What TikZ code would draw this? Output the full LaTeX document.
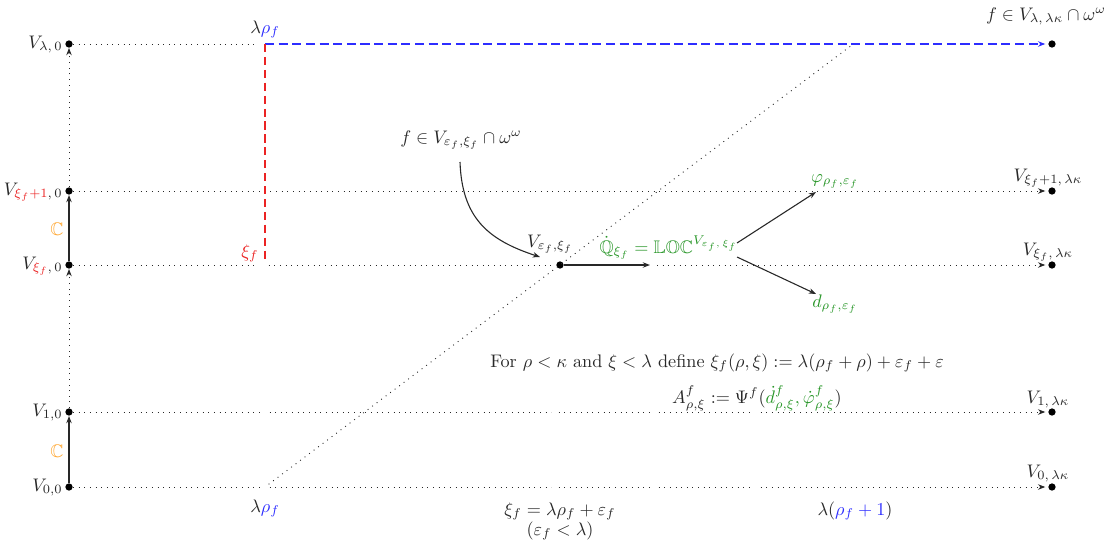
\documentclass[tikz,border=0pt]{standalone}
\usepackage{amsmath,amssymb}
\usetikzlibrary{arrows.meta}
\definecolor{cblue}{RGB}{45,45,255}
\definecolor{cred}{RGB}{235,35,35}
\definecolor{corange}{RGB}{255,165,45}
\definecolor{cgreen}{RGB}{40,150,40}
\definecolor{ctext}{RGB}{40,40,40}
\begin{document}
\begin{tikzpicture}[x=0.55pt,y=-0.55pt,
  dotline/.style={line width=0.5pt, dash pattern=on 0.5pt off 2.6pt, draw=ctext},
  tip/.style={-{Stealth[length=4pt,width=3pt]}},
  solidarr/.style={draw=ctext, line width=0.6pt, tip},
  vdot/.style={circle,fill=black,inner sep=0pt,minimum size=4pt},
  lbl/.style={inner sep=0pt, text=ctext},
  blueline/.style={draw=cblue, line width=0.7pt, dash pattern=on 5pt off 2.5pt},
  redline/.style={draw=cred, line width=0.7pt, dash pattern=on 4.5pt off 2.6pt}]
\useasboundingbox (0,0) rectangle (1115,547);

% left and right dots
\node[vdot] (L0) at (69,487) {};
\node[vdot] (L1) at (69,412) {};
\node[vdot] (Lx) at (69,265) {};
\node[vdot] (Lx1) at (69,191) {};
\node[vdot] (Ll) at (69,44) {};
\node[vdot] (R0) at (1052,487) {};
\node[vdot] (R1) at (1052,412) {};
\node[vdot] (Rx) at (1052,265) {};
\node[vdot] (Rx1) at (1052,191) {};
\node[vdot] (Rl) at (1052,44) {};
\node[vdot] (M) at (560,265) {};

% left labels
\node[lbl,anchor=base east] (tL0) at (63,491) {$V_{0,0}$};
\node[lbl,anchor=base east] (tL1) at (63,416) {$V_{1,0}$};
\node[lbl,anchor=base east] (tLx) at (63,269) {$V_{\textcolor{cred}{\xi_f},\,0}$};
\node[lbl,anchor=base east] (tLx1) at (63,195) {$V_{\textcolor{cred}{\xi_f+1},\,0}$};
\node[lbl,anchor=base east] (tLl) at (63,48) {$V_{\lambda,\,0}$};
\node[text=corange] (c1) at (57,451) {$\mathbb{C}$};
\node[text=corange] (c2) at (57,229) {$\mathbb{C}$};

% right labels
\node[lbl,anchor=base] (tR0) at (1048,477) {$V_{0,\,\lambda\kappa}$};
\node[lbl,anchor=base] (tR1) at (1048,403) {$V_{1,\,\lambda\kappa}$};
\node[lbl,anchor=base] (tRx) at (1048,255) {$V_{\xi_f,\,\lambda\kappa}$};
\node[lbl,anchor=base] (tRx1) at (1048,181) {$V_{\xi_f+1,\,\lambda\kappa}$};
\node[lbl,anchor=base] (tRl) at (1046,20) {$f\in V_{\lambda,\,\lambda\kappa}\cap\omega^\omega$};

% column labels
\node[lbl,anchor=base] (top) at (265,33) {$\lambda\textcolor{cblue}{\rho_f}$};
\node[lbl,anchor=base] (bot) at (265,512) {$\lambda\textcolor{cblue}{\rho_f}$};
\node[lbl,anchor=base east,text=cred] (xil) at (259,257) {$\xi_f$};
\node[lbl,anchor=base] (xidef) at (560,515) {$\xi_f=\lambda\rho_f+\varepsilon_f$};
\node[lbl,anchor=base] (epsl) at (560,535) {$(\varepsilon_f<\lambda)$};
\node[lbl,anchor=base] (lrho) at (855,515) {$\lambda(\textcolor{cblue}{\rho_f+1})$};

% texts
\node[lbl,anchor=base] (for) at (717,367) {For $\rho<\kappa$ and $\xi<\lambda$ define $\xi_f(\rho,\xi):=\lambda(\rho_f+\rho)+\varepsilon_f+\varepsilon$};
\node[lbl,anchor=base] (adef) at (757,403) {$A^f_{\rho,\xi}:=\Psi^f(\textcolor{cgreen}{\dot d^f_{\rho,\xi},\dot\varphi^f_{\rho,\xi}})$};
\node[lbl,anchor=base] (fin) at (461,143) {$f\in V_{\varepsilon_f,\xi_f}\cap\omega^\omega$};
\node[lbl,anchor=base] (mlab) at (550,247) {$V_{\varepsilon_f,\xi_f}$};
\node[lbl,anchor=base,text=cgreen] (Q) at (669,253) {$\dot{\mathbb{Q}}_{\xi_f}=\mathbb{LOC}^{V_{\varepsilon_f,\,\xi_f}}$};
\node[lbl,anchor=base,text=cgreen] (phi) at (835,182) {$\varphi_{\rho_f,\varepsilon_f}$};
\node[lbl,anchor=base,text=cgreen] (dd) at (835,307) {$d_{\rho_f,\varepsilon_f}$};

% helper coordinates
\coordinate (tc) at (265,44);
\coordinate (rc) at (265,260);
\coordinate (dt) at (852,45);
\coordinate (b1) at (265,487);
\coordinate (g1) at (265,191);
\coordinate (h1) at (265,265);
\coordinate (qh) at (650,265);
\coordinate (qh2) at (657,265);
\coordinate (qa) at (737,243);
\coordinate (qb) at (737,257);
\coordinate (pa) at (816,192);
\coordinate (pb) at (816,294);
\coordinate (cs) at (460,162);
\coordinate (ce) at (540,257);
\foreach \y/\n in {412/a,487/b}{
  \coordinate (\n1) at (265,\y);
  \coordinate (\n2) at (555,\y);
  \coordinate (\n3) at (655,\y);
  \coordinate (\n4) at (757,\y);
}

% left vertical arrows
\draw[solidarr] (L0) -- (L1);
\draw[dotline,tip] (L1) -- (Lx);
\draw[solidarr] (Lx) -- (Lx1);
\draw[dotline,tip] (Lx1) -- (Ll);

% top row
\draw[dotline] (Ll) -- ([xshift=-5pt]tc);
\draw[blueline,tip] (tc) -- ([xshift=-1.5pt]Rl.west);
\draw[redline] (tc) -- (rc);

% row xi_f+1
\draw[dotline] (Lx1) -- ([xshift=-3pt]g1);
\draw[dotline,tip] ([xshift=3pt]g1) -- ([xshift=-1.5pt]Rx1.west);

% row xi_f
\draw[dotline] (Lx) -- ([xshift=-4pt]h1);
\draw[dotline] ([xshift=2pt]h1) -- ([xshift=-2pt]M.west);
\draw[solidarr] (M) -- (qh);
\draw[dotline,tip] (qh2) -- ([xshift=-1.5pt]Rx.west);

% rows 1 and 0
\draw[dotline] (L1) -- ([xshift=-2.5pt]a1);
\draw[dotline] ([xshift=2.5pt]a1) -- ([xshift=-2pt]a2);
\draw[dotline] ([xshift=2pt]a2) -- ([xshift=-2pt]a3);
\draw[dotline] ([xshift=2pt]a3) -- ([xshift=-2pt]a4);
\draw[dotline,tip] ([xshift=2pt]a4) -- ([xshift=-1.5pt]R1.west);
\draw[dotline] (L0) -- ([xshift=-2.5pt]b1);
\draw[dotline] ([xshift=2.5pt]b1) -- ([xshift=-2pt]b2);
\draw[dotline] ([xshift=2pt]b2) -- ([xshift=-2pt]b3);
\draw[dotline] ([xshift=2pt]b3) -- ([xshift=-2pt]b4);
\draw[dotline,tip] ([xshift=2pt]b4) -- ([xshift=-1.5pt]R0.west);

% diagonal
\draw[dotline] ([shift={(2pt,1.5pt)}]b1) -- (dt);

% curved arrow and forking arrows
\draw[solidarr] (cs) .. controls (462,218) and (488,240) .. (ce);
\draw[solidarr] (qa) -- (pa);
\draw[solidarr] (qb) -- (pb);
\end{tikzpicture}
\end{document}
